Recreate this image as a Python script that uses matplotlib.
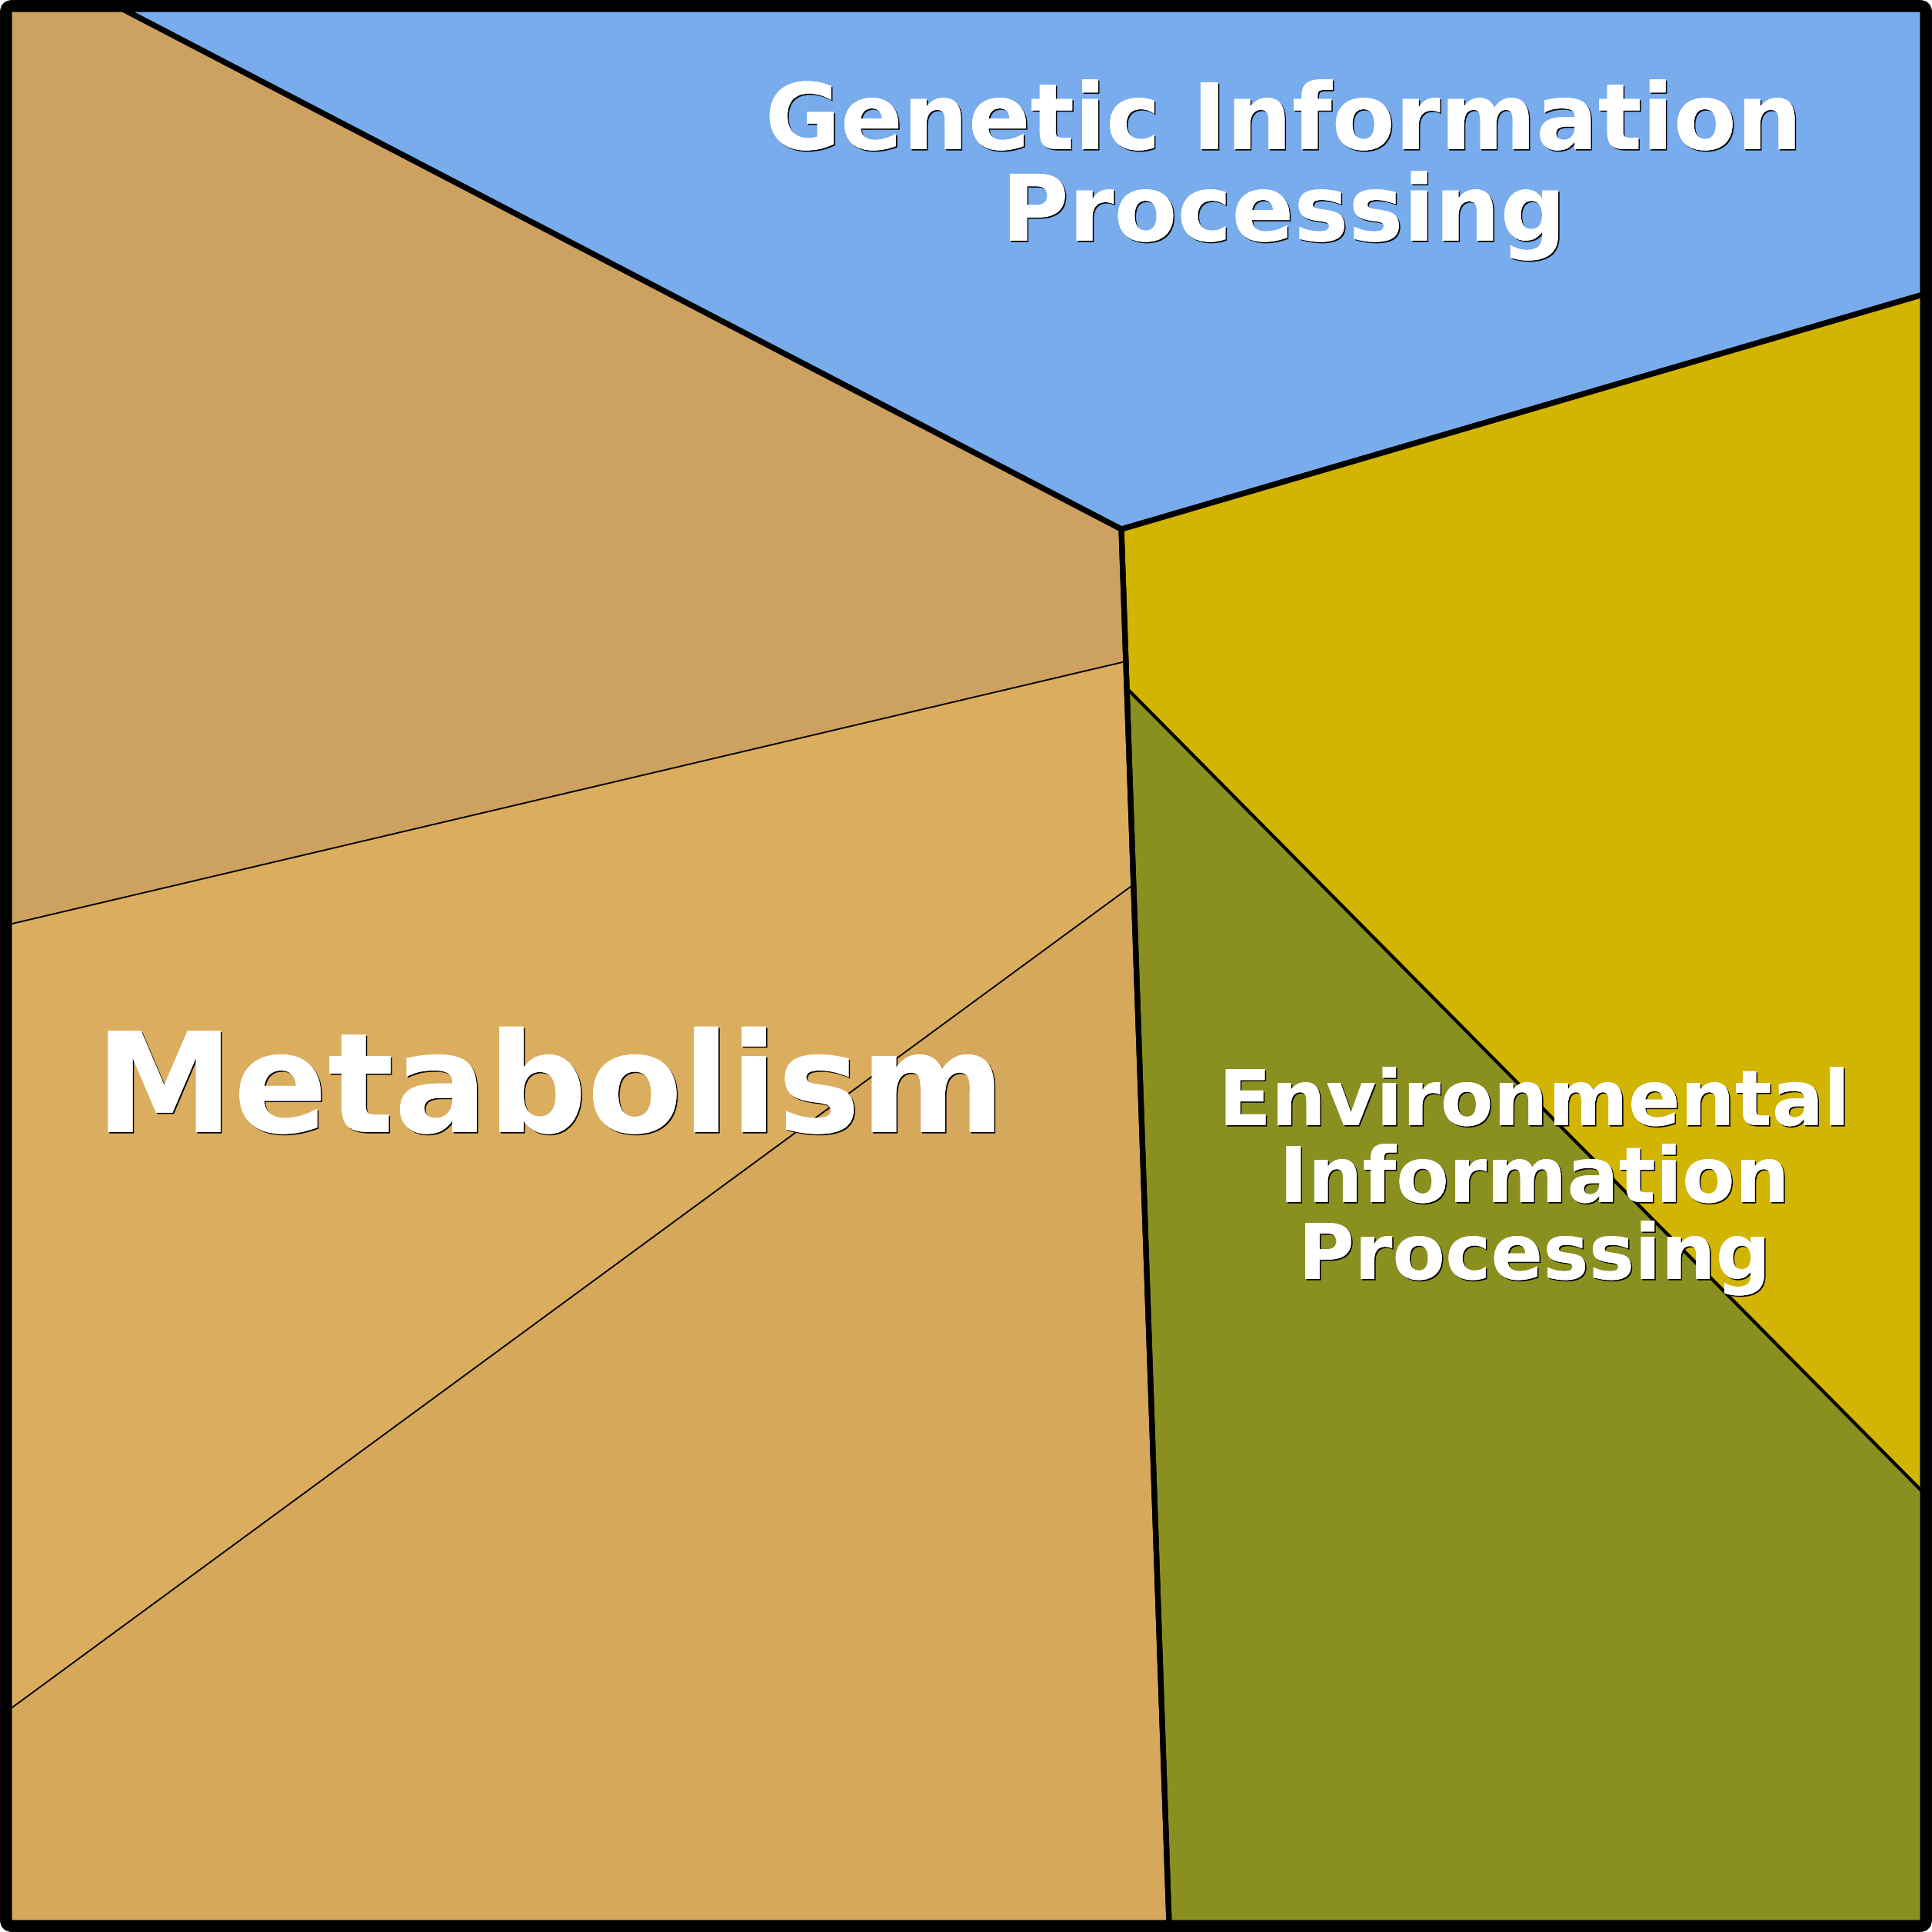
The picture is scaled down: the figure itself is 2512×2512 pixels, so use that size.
import matplotlib

matplotlib.use("Agg")
import matplotlib.pyplot as plt
import matplotlib.patheffects as pe
from matplotlib.patches import Polygon, FancyBboxPatch

# Voronoi treemap cells (pixel space of a 2512 x 2512 canvas, y grows downward)
metabolism_cells = [
    [(12, 12), (160, 12), (1458, 688), (1464, 860), (12, 1202)],
    [(12, 1202), (1464, 860), (1474, 1150), (12, 2223)],
    [(12, 2223), (1474, 1150), (1520, 2500), (12, 2500)],
]
metabolism_colors = ["#cda160", "#dbae5f", "#d6a85c"]

genetic_cells = [
    [(160, 12), (2500, 12), (2500, 383), (1458, 688)],
]
genetic_colors = ["#78acec"]

environmental_cells = [
    [(1458, 688), (2500, 383), (2500, 1940), (1465, 895)],
    [(1465, 895), (2500, 1940), (2500, 2500), (1520, 2500)],
]
environmental_colors = ["#d2b402", "#8a901f"]

group_outlines = [
    [(12, 12), (160, 12), (1458, 688), (1520, 2500), (12, 2500)],
    [(160, 12), (2500, 12), (2500, 383), (1458, 688)],
    [(1458, 688), (2500, 383), (2500, 2500), (1520, 2500)],
]

# labels: (text lines, centre x, first baseline y, font size, line step)
labels = [
    (["Metabolism"], 715, 1472, 130, 0),
    (["Genetic Information", "Processing"], 1669, 194, 86, 119),
    (["Environmental", "Information", "Processing"], 1995, 1463, 72, 100),
]

SIZE = 2512
fig = plt.figure(figsize=(SIZE / 100, SIZE / 100), dpi=100)
ax = fig.add_axes([0, 0, 1, 1])
ax.set_xlim(0, SIZE)
ax.set_ylim(SIZE, 0)
ax.axis("off")


def draw_cells(cells, colors, lw):
    for verts, color in zip(cells, colors):
        ax.add_patch(
            Polygon(verts, closed=True, facecolor=color, edgecolor="black",
                    linewidth=lw, joinstyle="miter")
        )


draw_cells(metabolism_cells, metabolism_colors, 1.3)
draw_cells(genetic_cells, genetic_colors, 2.9)
draw_cells(environmental_cells, environmental_colors, 3.0)

for verts in group_outlines:
    ax.add_patch(
        Polygon(verts, closed=True, facecolor="none", edgecolor="black",
                linewidth=5.2, joinstyle="miter")
    )

# outer frame
ax.add_patch(
    FancyBboxPatch((6, 6), SIZE - 12, SIZE - 12,
                   boxstyle="round,pad=0,rounding_size=10",
                   facecolor="none", edgecolor="black", linewidth=8.6)
)

shadow = [pe.withSimplePatchShadow(offset=(1.2, -1.2), shadow_rgbFace="black", alpha=1.0),
          pe.Normal()]

for lines, cx, y0, size, step in labels:
    for i, line in enumerate(lines):
        ax.text(cx, y0 + i * step, line, ha="center", va="baseline",
                fontsize=size, fontweight="bold", color="white",
                family="DejaVu Sans", path_effects=shadow)

fig.savefig("out.png", dpi=100)
plt.close(fig)
